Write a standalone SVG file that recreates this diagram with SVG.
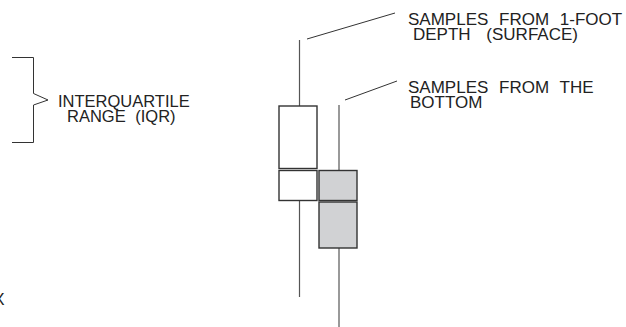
<svg xmlns="http://www.w3.org/2000/svg" width="626" height="327" viewBox="0 0 626 327">
<style>
.t{font-family:"Liberation Sans",Arial,sans-serif;font-size:17px;fill:#222;word-spacing:6px}
.l{font-size:16.5px;word-spacing:5px}
.w{stroke:#555;stroke-width:1.2;fill:none}
.b{stroke:#333;stroke-width:1.4}
.white{fill:#fff}
.gray{fill:#d1d2d4}
.ln{stroke:#333;stroke-width:1;fill:none}
</style>
<rect width="626" height="327" fill="#fff"/>
<g id="connectors">
<line class="ln" x1="307" y1="39" x2="395" y2="13"/>
<line class="ln" x1="345" y1="100" x2="397" y2="81"/>
</g>
<g id="surface-box">
<line class="w" x1="299.5" y1="40" x2="299.5" y2="106"/>
<line class="w" x1="299.5" y1="200" x2="299.5" y2="297"/>
<rect class="b white" x="279" y="106" width="38" height="62.5"/>
<rect class="b white" x="279" y="170.5" width="38" height="30"/>
</g>
<g id="bottom-box">
<line class="w" x1="339" y1="105" x2="339" y2="170"/>
<line class="w" x1="339" y1="248" x2="339" y2="327"/>
<rect class="b gray" x="319" y="170.5" width="38" height="30"/>
<rect class="b gray" x="319" y="202" width="38" height="46"/>
</g>
<g id="iqr-label">
<path class="ln" d="M12 57.5 H33.5 V93.5 L48 100 L33.5 105 V142.5 H12"/>
<text class="t l" x="58" y="106.5">INTERQUARTILE</text>
<text class="t l" x="67" y="121.5">RANGE  (IQR)</text>
</g>
<g id="surface-label">
<text class="t" x="408" y="24.5">SAMPLES FROM 1-FOOT</text>
<text class="t" x="413" y="39.5" style="word-spacing:11px">DEPTH (SURFACE)</text>
</g>
<g id="bottom-label">
<text class="t" x="408" y="93">SAMPLES FROM THE</text>
<text class="t" x="410" y="107.5">BOTTOM</text>
</g>
<text class="t" x="4.5" y="305" text-anchor="end">X</text>
</svg>
